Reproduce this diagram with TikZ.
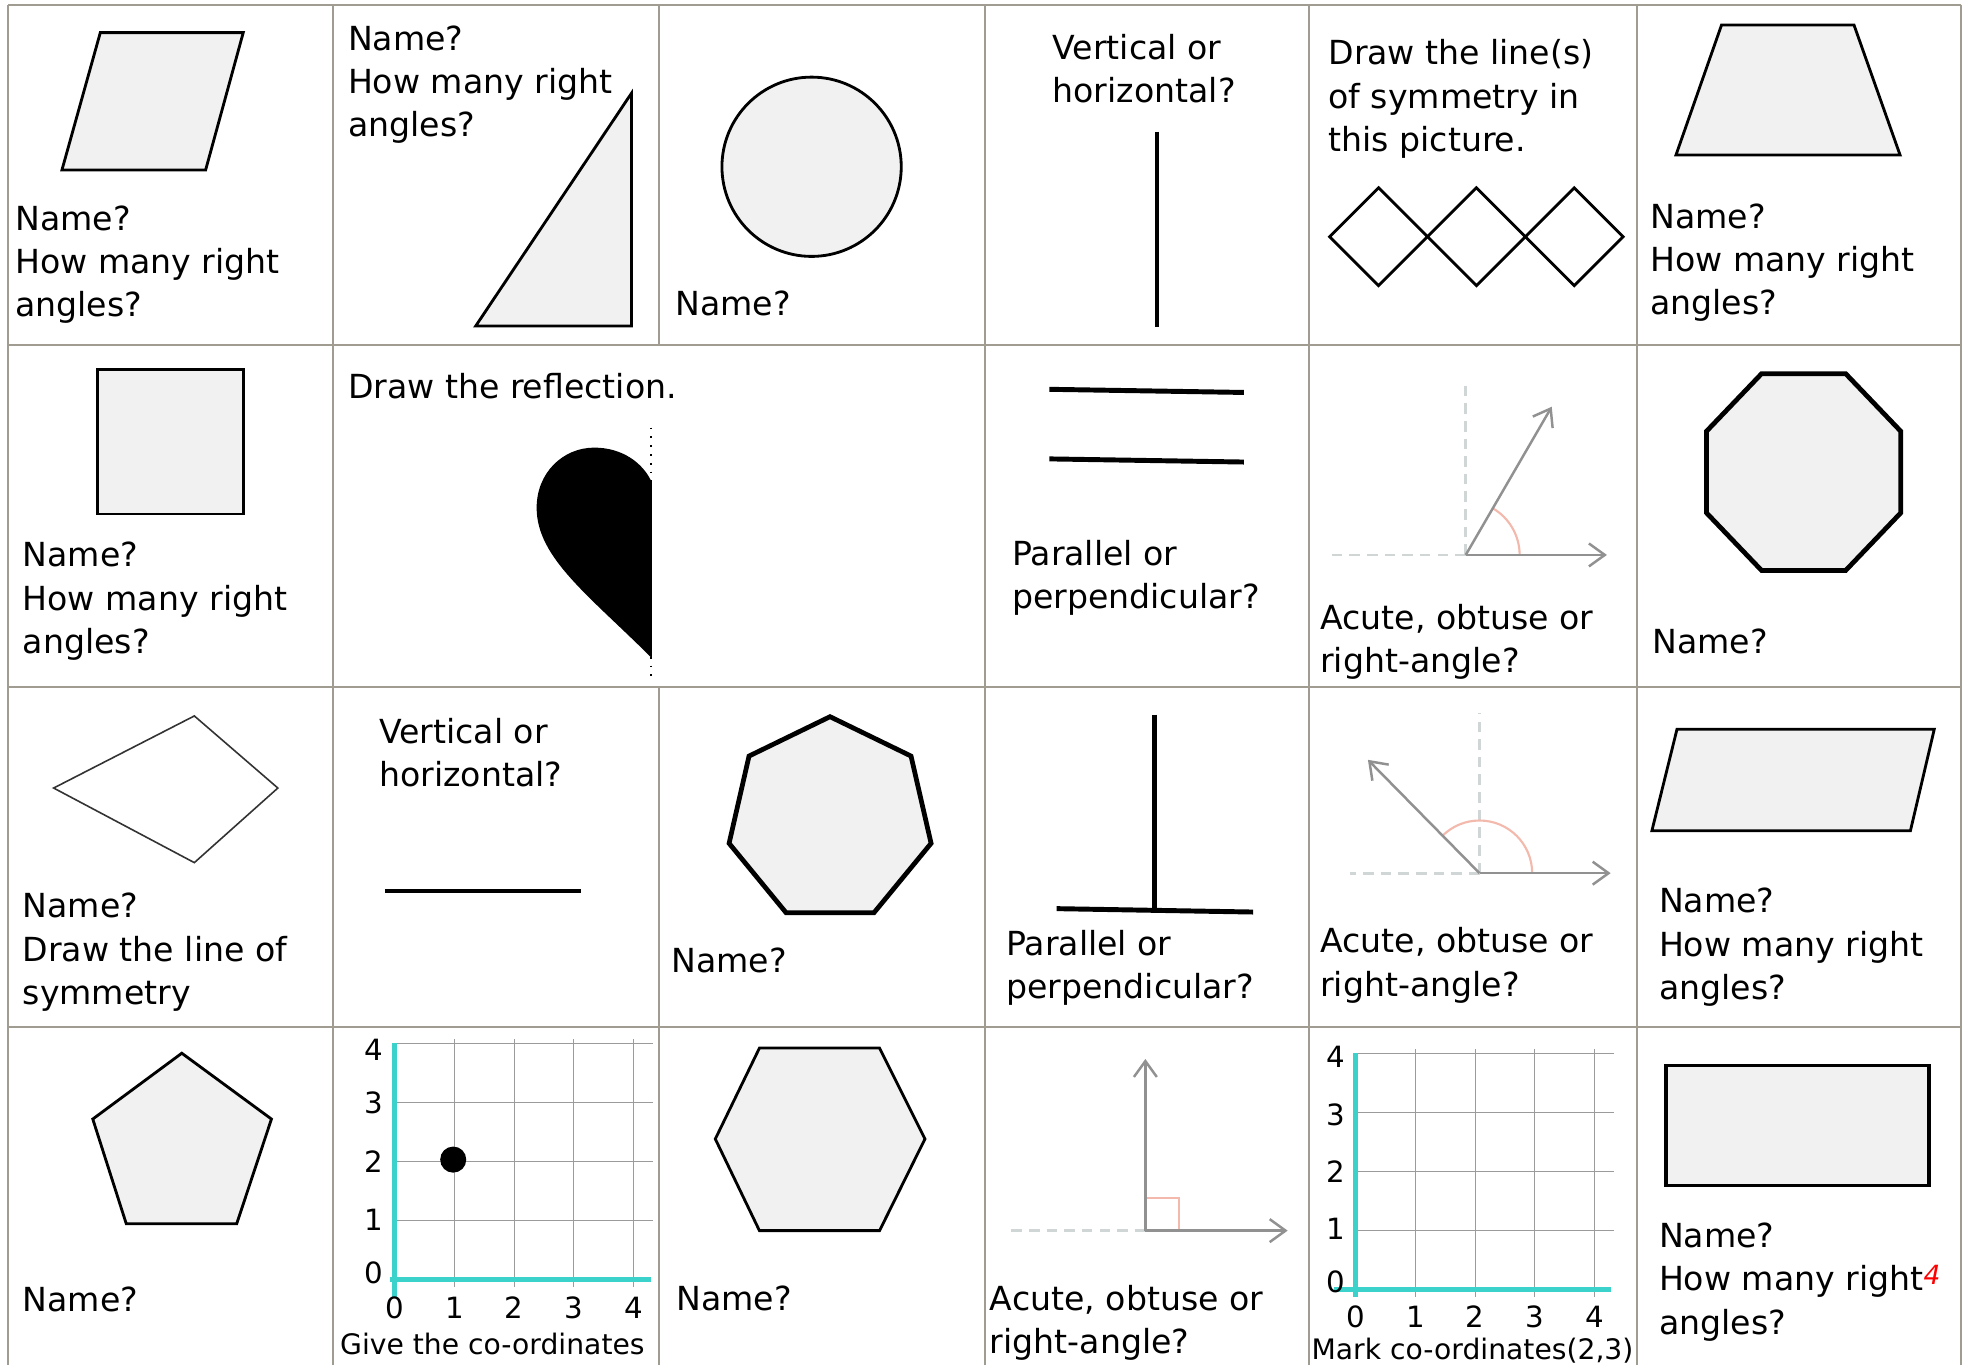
\documentclass[tikz,border=0pt]{standalone}
\usepackage{fontspec}
\setmainfont{DejaVu Sans}
\usetikzlibrary{arrows.meta}
\definecolor{gridc}{RGB}{160,156,146}
\definecolor{shapefill}{RGB}{241,241,241}
\definecolor{raygray}{RGB}{145,145,145}
\definecolor{guidegray}{RGB}{208,213,213}
\definecolor{markpink}{RGB}{243,185,172}
\definecolor{axiscyan}{RGB}{60,210,204}
\definecolor{finegrid}{RGB}{155,155,155}
\newcommand{\mlines}[1]{\begin{tabular}[t]{@{}l@{}}#1\end{tabular}}
\begin{document}
\begin{tikzpicture}[x=0.0125cm, y=-0.0125cm,
  cellline/.style={draw=gridc, line width=0.55pt},
  shapebox/.style={draw=black, fill=shapefill, line width=0.8pt, line join=miter},
  thickshape/.style={draw=black, fill=shapefill, line width=1.35pt, line join=miter},
  lbl/.style={inner sep=0pt, anchor=base west, font=\fontsize{9.4}{12.3}\selectfont},
  capt/.style={inner sep=0pt, anchor=base, font=\fontsize{8}{9}\selectfont},
  digit/.style={inner sep=0pt, font=\fontsize{8.3}{9}\selectfont},
  ray/.style={draw=raygray, line width=0.7pt, -{Straight Barb[length=4.5pt,width=6.5pt]}},
  guide/.style={draw=guidegray, line width=0.8pt, dash pattern=on 3pt off 2pt},
  angmark/.style={draw=markpink, line width=0.6pt},
  heavyline/.style={draw=black, line width=1.4pt},
  fineline/.style={draw=finegrid, line width=0.3pt},
  axisline/.style={draw=axiscyan, line width=1.4pt}]
\useasboundingbox (0,0) rectangle (1568,1089);
\fill[white] (0,0) rectangle (1568,1089);

% ---------- table lines ----------
\foreach \yy in {3.7,275.2,547.7,819} \draw[cellline] (6.7,\yy) -- (1564,\yy);
\foreach \xx in {6.7,265.9,785.4,1044.3,1305.5,1564} \draw[cellline] (\xx,3.7) -- (\xx,1089);
\draw[cellline] (525.8,3.7) -- (525.8,275.2);
\draw[cellline] (525.8,547.7) -- (525.8,1089);

% ---------- row 1 ----------
\draw[shapebox] (80,26) -- (194,26) -- (164,135.6) -- (49.4,135.6) -- cycle;
\node[lbl] (t11) at (11.7,183.5) {\mlines{Name?\\How many right\\angles?}};

\node[lbl] (t12) at (277,40) {\mlines{Name?\\How many right\\angles?}};
\draw[shapebox] (503.6,74.4) -- (503.6,260) -- (379.4,260) -- cycle;

\draw[shapebox] (647.3,133) circle[radius=71.5];
\node[lbl] (t13) at (538,252) {Name?};

\node[lbl] (t14) at (839,47.3) {\mlines{Vertical or\\horizontal?}};
\draw[draw=black, line width=1.2pt] (922.6,105) -- (922.6,261);

\node[lbl] (t15) at (1059,51.8) {\mlines{Draw the line(s)\\of symmetry in\\this picture.}};
\foreach \cx in {1099.5,1177.5,1255.5}
  \draw[draw=black, line width=0.8pt, line join=miter] (\cx-39,188.8) -- (\cx,149.8) -- (\cx+39,188.8) -- (\cx,227.8) -- cycle;

\draw[shapebox] (1373,20) -- (1478.7,20) -- (1515.4,123.6) -- (1336.7,123.6) -- cycle;
\node[lbl] (t16) at (1315.7,182) {\mlines{Name?\\How many right\\angles?}};

% ---------- row 2 ----------
\draw[shapebox] (78,295) rectangle (194,410);
\node[lbl] (t21) at (17.6,452) {\mlines{Name?\\How many right\\angles?}};

\node[lbl] (t22) at (277,318) {Draw the reflection.};
\fill[black] (520,525) .. controls (470,475) and (428,445) .. (428,405)
  .. controls (428,377) and (449,357) .. (474,357)
  .. controls (496,357) and (513,369) .. (520,385) -- cycle;
\draw[draw=black, line width=0.5pt, dotted] (519.5,341) -- (519.5,544);

\draw[heavyline] (837,310.5) -- (992,313);
\draw[heavyline] (837,366) -- (992,368.5);
\node[lbl] (t24) at (806.7,451) {\mlines{Parallel or\\perpendicular?}};

\coordinate (a1o) at (1169,442.6);
\coordinate (a1up) at (1169,305.6);
\coordinate (a1left) at (1057.6,442.6);
\coordinate (a1x) at (1281.6,442.6);
\coordinate (a1d) at (1237.6,324.4);
\draw[guide] (a1o) -- (a1up);
\draw[guide] (a1o) -- (a1left);
\draw[angmark] (a1o) ++(43,0) arc[start angle=0, end angle=-59.9, radius=43];
\draw[ray] (a1o) -- (a1x);
\draw[ray] (a1o) -- (a1d);
\node[lbl] (t25) at (1052.5,502) {\mlines{Acute, obtuse or\\right-angle?}};

\draw[thickshape] (1405,298) -- (1472,298) -- (1516,344) -- (1516,409) -- (1472,455) -- (1405,455) -- (1361,409) -- (1361,344) -- cycle;
\node[lbl] (t26) at (1317.4,521) {Name?};

% ---------- row 3 ----------
\draw[draw=black!80, line width=0.45pt] (155,571) -- (221.6,628.5) -- (155,688) -- (42.8,628.5) -- cycle;
\node[lbl] (t31) at (17.6,732) {\mlines{Name?\\Draw the line of\\symmetry}};

\node[lbl] (t32) at (302,593) {\mlines{Vertical or\\horizontal?}};
\draw[draw=black, line width=1.1pt] (307,710.5) -- (463,710.5);

\draw[thickshape] (662,571.6) -- (726.6,603) -- (742.6,672.6) -- (697,728) -- (627,728) -- (581.5,672.6) -- (597.4,603) -- cycle;
\node[lbl] (t33) at (534.8,776) {Name?};

\draw[heavyline] (921,570) -- (921,725);
\draw[heavyline] (842.7,724.7) -- (999.4,727.4);
\node[lbl] (t34) at (802,762) {\mlines{Parallel or\\perpendicular?}};

\coordinate (a2o) at (1180,696.4);
\coordinate (a2up) at (1180,569);
\coordinate (a2left) at (1077,696.4);
\coordinate (a2x) at (1284.6,696.4);
\coordinate (a2d) at (1091,606);
\draw[guide] (a2o) -- (a2up);
\draw[guide] (a2o) -- (a2left);
\draw[angmark] (a2o) ++(42,0) arc[start angle=0, end angle=-135, radius=42];
\draw[ray] (a2o) -- (a2x);
\draw[ray] (a2o) -- (a2d);
\node[lbl] (t35) at (1052.5,760) {\mlines{Acute, obtuse or\\right-angle?}};

\draw[shapebox] (1337.5,581.6) -- (1542.7,581.6) -- (1523.7,662.5) -- (1317.5,662.5) -- cycle;
\node[lbl] (t36) at (1322.6,728) {\mlines{Name?\\How many right\\angles?}};

% ---------- row 4 ----------
\draw[shapebox] (145,840) -- (216.5,892.5) -- (188.8,976) -- (100.7,976) -- (74,892.5) -- cycle;
\node[lbl] (t41) at (17.6,1046) {Name?};

\begin{scope}[xshift=3.934cm, yshift=-12.75cm, x=0.595cm, y=0.5875cm]
  \foreach \i in {1,...,4} \draw[fineline] (\i,-0.13) -- (\i,4.07);
  \foreach \j in {1,...,4} \draw[fineline] (0,\j) -- (4.33,\j);
  \draw[axisline] (-0.08,0) -- (4.3,0);
  \draw[axisline] (0,4) -- (0,-0.31);
  \node[digit] (gay0) at (-0.35,0.11) {0};
  \node[digit] (gay1) at (-0.35,1) {1};
  \node[digit] (gay2) at (-0.35,2) {2};
  \node[digit] (gay3) at (-0.35,3) {3};
  \node[digit] (gay4) at (-0.35,3.9) {4};
  \foreach \k in {0,...,4} \node[digit] (gax\k) at (\k,-0.48) {\k};
  \fill[black] (0.98,2.03) circle[radius=0.13cm];
\end{scope}
\node[capt] (t42) at (392.7,1080.6) {Give the co-ordinates};

\draw[shapebox] (605.7,835.9) -- (701.5,835.9) -- (737.7,908.4) -- (701.5,981.5) -- (605.7,981.5) -- (570.5,908.4) -- cycle;
\node[lbl] (t43) at (538.8,1045) {Name?};

\coordinate (a3o) at (913.5,981.5);
\coordinate (a3up) at (913.5,844.6);
\coordinate (a3left) at (801.6,981.5);
\coordinate (a3x) at (1027,981.5);
\draw[guide] (a3o) -- (a3left);
\draw[angmark] (913.5,955.5) -- (940,955.5) -- (940,981.5);
\draw[ray] (a3o) -- (a3x);
\draw[ray] (a3o) -- (a3up);
\node[lbl] (t44) at (789,1045) {\mlines{Acute, obtuse or\\right-angle?}};

\begin{scope}[xshift=13.5125cm, yshift=-12.8475cm, x=0.595cm, y=0.5875cm]
  \foreach \i in {1,...,4} \draw[fineline] (\i,-0.13) -- (\i,4.07);
  \foreach \j in {1,...,4} \draw[fineline] (0,\j) -- (4.33,\j);
  \draw[axisline] (-0.37,0) -- (4.28,0);
  \draw[axisline] (0,4) -- (0,-0.14);
  \node[digit] (gby0) at (-0.34,0.12) {0};
  \node[digit] (gby1) at (-0.34,1.02) {1};
  \node[digit] (gby2) at (-0.34,2) {2};
  \node[digit] (gby3) at (-0.34,2.96) {3};
  \node[digit] (gby4) at (-0.34,3.94) {4};
  \foreach \k in {0,...,4} \node[digit] (gbx\k) at (\k,-0.47) {\k};
\end{scope}
\node[capt] (t45) at (1174.4,1084.6) {Mark co-ordinates(2,3)};

\draw[shapebox, line width=0.95pt] (1328.6,850) rectangle (1538.6,945.6);
\node[lbl] (t46) at (1322.6,995) {\mlines{Name?\\How many right\raisebox{1.9pt}{\textcolor{red}{\fontsize{7.5}{8}\selectfont\itshape 4}}\\angles?}};
\end{tikzpicture}
\end{document}
